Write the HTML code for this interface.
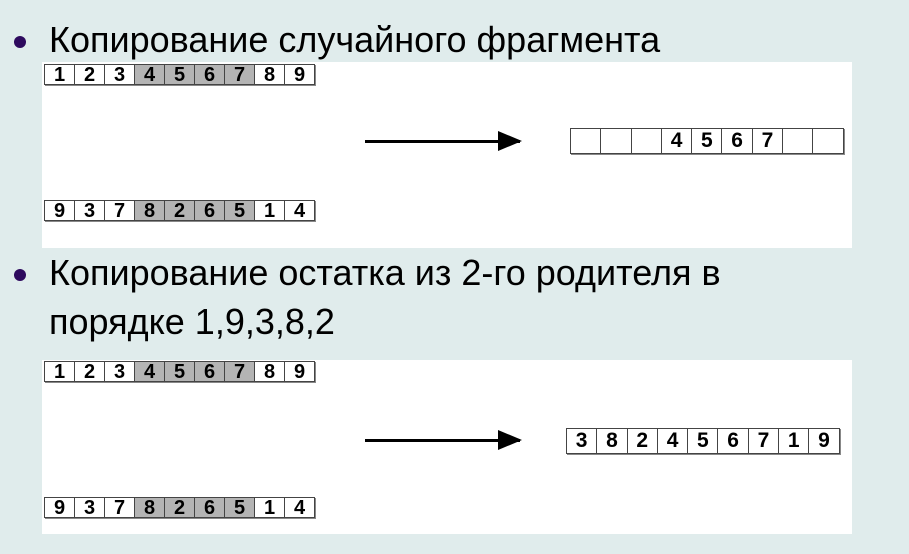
<!DOCTYPE html>
<html><head><meta charset="utf-8"><style>
body{margin:0;width:909px;height:554px;background:#e0ecec;position:relative;overflow:hidden;font-family:"Liberation Sans",Arial,sans-serif}
.t{position:absolute;left:49px;font-size:36px;color:#000;line-height:40px;white-space:nowrap}
.dot{position:absolute;left:14px;width:12px;height:12px;border-radius:50%;background:#2e0a5e}
.panel{position:absolute;left:42px;width:810px;background:#fff}
.strip{position:absolute;display:flex;border:1px solid #444;border-right:none;box-shadow:1px 1px 0 #888}
.strip div{width:29px;height:19px;border-right:1px solid #444;font-weight:bold;font-size:20px;line-height:20px;text-align:center;background:#fff}
.strip.r div{height:24px;line-height:24px;font-size:21px;width:29.3px}
.strip div.g{background:#b4b4b4}
.arrow{position:absolute;height:3px;background:#000}
.arrow:after{content:"";position:absolute;right:-2px;top:-9px;border-left:24px solid #000;border-top:10.5px solid transparent;border-bottom:10.5px solid transparent}
</style></head><body>
<div class="dot" style="top:36px"></div>
<div class="t" style="top:20px">Копирование случайного фрагмента</div>
<div class="panel" style="top:62px;height:186px"></div>
<div class="strip" style="left:44px;top:64px"><div>1</div><div>2</div><div>3</div><div class="g">4</div><div class="g">5</div><div class="g">6</div><div class="g">7</div><div>8</div><div>9</div></div>
<div class="arrow" style="left:365px;top:140px;width:155px"></div>
<div class="strip r" style="left:570px;top:128px"><div></div><div></div><div></div><div>4</div><div>5</div><div>6</div><div>7</div><div></div><div></div></div>
<div class="strip" style="left:44px;top:200px"><div>9</div><div>3</div><div>7</div><div class="g">8</div><div class="g">2</div><div class="g">6</div><div class="g">5</div><div>1</div><div>4</div></div>

<div class="dot" style="top:269px"></div>
<div class="t" style="top:253px">Копирование остатка из 2-го родителя в</div>
<div class="t" style="top:302px">порядке 1,9,3,8,2</div>
<div class="panel" style="top:360px;height:174px"></div>
<div class="strip" style="left:44px;top:361px"><div>1</div><div>2</div><div>3</div><div class="g">4</div><div class="g">5</div><div class="g">6</div><div class="g">7</div><div>8</div><div>9</div></div>
<div class="arrow" style="left:365px;top:439px;width:155px"></div>
<div class="strip r" style="left:566px;top:428px"><div>3</div><div>8</div><div>2</div><div>4</div><div>5</div><div>6</div><div>7</div><div>1</div><div>9</div></div>
<div class="strip" style="left:44px;top:497px"><div>9</div><div>3</div><div>7</div><div class="g">8</div><div class="g">2</div><div class="g">6</div><div class="g">5</div><div>1</div><div>4</div></div>
</body></html>
